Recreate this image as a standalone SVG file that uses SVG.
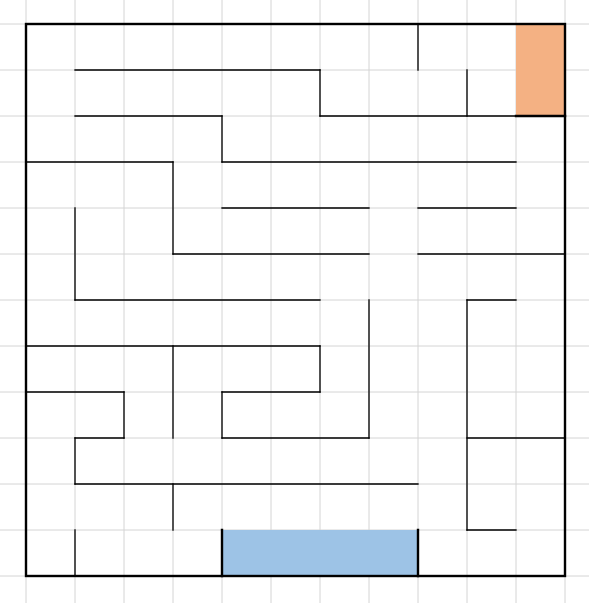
<svg xmlns="http://www.w3.org/2000/svg" width="589" height="603" viewBox="0 0 589 603">
<style>
.g{stroke:#d4d4d4;stroke-width:1;fill:none}
.w{stroke:#000;stroke-width:1.3;fill:none;stroke-linecap:square}
.t{stroke:#000;stroke-width:2.4;fill:none;stroke-linecap:square}
</style>
<rect width="589" height="603" fill="#fff"/>
<g id="grid" class="g">
<path d="M26 0V603M75 0V603M124 0V603M173 0V603M222 0V603M271 0V603M320 0V603M369 0V603M418 0V603M467 0V603M516 0V603M565 0V603"/>
<path d="M0 24H589M0 70H589M0 116H589M0 162H589M0 208H589M0 254H589M0 300H589M0 346H589M0 392H589M0 438H589M0 484H589M0 530H589M0 576H589"/>
</g>
<g id="goal"><rect x="516" y="24" width="49" height="92" fill="#f4b183"/></g>
<g id="start"><rect x="222" y="530" width="196" height="46" fill="#9dc3e6"/></g>
<g id="walls" class="w">
<path d="M75 70H320M75 116H222M320 116H516M26 162H173M222 162H516M222 208H369M418 208H516M173 254H369M418 254H565M75 300H320M467 300H516M26 346H320M26 392H124M222 392H320M75 438H124M222 438H369M467 438H565M75 484H418M467 530H516"/>
<path d="M418 24V70M467 70V116M320 70V116M222 116V162M173 162V254M75 208V300M369 300V438M467 300V530M320 346V392M173 346V438M124 392V438M222 392V438M75 438V484M173 484V530M75 530V576"/>
</g>
<g id="border" class="t">
<rect x="26" y="24" width="539" height="552"/>
<path d="M516 116H565M222 530V576M418 530V576"/>
</g>
</svg>
